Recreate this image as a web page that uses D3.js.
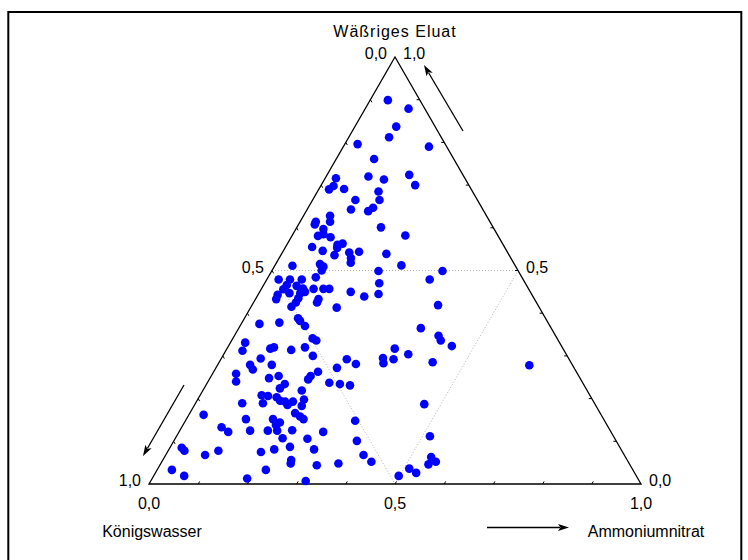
<!DOCTYPE html>
<html>
<head>
<meta charset="utf-8">
<script src="https://cdn.jsdelivr.net/npm/d3@7"></script>
<style>
  body { margin: 0; background: #fff; }
  svg { display: block; }
  text { font-family: "Liberation Sans", Arial, sans-serif; font-size: 16px; fill: #000; }
</style>
</head>
<body>
<script>
// Ternary composition of each sample (fractions, Königswasser = 1 - W - A)
const wassrigesEluat = [
  0.899, 0.879, 0.837, 0.812, 0.790, 0.796, 0.761, 0.716, 0.720, 0.713,
  0.724, 0.700, 0.698, 0.690, 0.691, 0.685, 0.665, 0.665, 0.643, 0.647,
  0.639, 0.628, 0.614, 0.614, 0.608, 0.597, 0.601, 0.581, 0.585, 0.578,
  0.582, 0.555, 0.546, 0.560, 0.563, 0.553, 0.542, 0.544, 0.539, 0.536,
  0.529, 0.518, 0.511, 0.515, 0.509, 0.500, 0.484, 0.512, 0.499, 0.470,
  0.445, 0.450, 0.439, 0.413, 0.457, 0.457, 0.457, 0.479, 0.479, 0.479,
  0.466, 0.456, 0.447, 0.464, 0.458, 0.450, 0.447, 0.443, 0.433, 0.435,
  0.425, 0.415, 0.433, 0.425, 0.375, 0.378, 0.388, 0.382, 0.370, 0.341,
  0.336, 0.365, 0.331, 0.312, 0.317, 0.320, 0.314, 0.320, 0.300, 0.294,
  0.279, 0.268, 0.279, 0.292, 0.281, 0.272, 0.295, 0.283, 0.292, 0.317,
  0.304, 0.258, 0.253, 0.263, 0.253, 0.479, 0.499, 0.419, 0.347, 0.336,
  0.323, 0.285, 0.278, 0.187, 0.112, 0.052, 0.063, 0.052, 0.046, 0.036,
  0.026, 0.019, 0.240, 0.248, 0.234, 0.224, 0.245, 0.237, 0.234, 0.231,
  0.219, 0.198, 0.183, 0.208, 0.206, 0.203, 0.195, 0.193, 0.193, 0.185,
  0.189, 0.189, 0.162, 0.166, 0.158, 0.152, 0.152, 0.152, 0.144, 0.138,
  0.148, 0.133, 0.122, 0.125, 0.125, 0.125, 0.126, 0.122, 0.107, 0.106,
  0.101, 0.085, 0.078, 0.078, 0.075, 0.081, 0.087, 0.081, 0.068, 0.068,
  0.056, 0.048, 0.044, 0.048, 0.033, 0.019, 0.033, 0.013, 0.007
];
const ammoniumnitrat = [
  0.036, 0.088, 0.084, 0.082, 0.174, 0.026, 0.077, 0.022, 0.086, 0.121,
  0.167, 0.191, 0.026, 0.021, 0.051, 0.124, 0.087, 0.136, 0.089, 0.132,
  0.126, 0.054, 0.061, 0.032, 0.033, 0.056, 0.171, 0.053, 0.062, 0.080,
  0.230, 0.054, 0.080, 0.103, 0.112, 0.106, 0.136, 0.155, 0.213, 0.109,
  0.146, 0.151, 0.036, 0.090, 0.100, 0.101, 0.097, 0.257, 0.217, 0.233,
  0.244, 0.185, 0.218, 0.175, 0.126, 0.138, 0.106, 0.024, 0.047, 0.071,
  0.047, 0.045, 0.062, 0.068, 0.084, 0.092, 0.084, 0.040, 0.042, 0.086,
  0.086, 0.082, 0.128, 0.129, 0.037, 0.076, 0.109, 0.116, 0.132, 0.162,
  0.172, 0.370, 0.030, 0.034, 0.088, 0.094, 0.132, 0.157, 0.183, 0.080,
  0.066, 0.077, 0.110, 0.256, 0.280, 0.246, 0.328, 0.335, 0.351, 0.341,
  0.375, 0.048, 0.137, 0.212, 0.202, 0.331, 0.347, 0.378, 0.415, 0.425,
  0.454, 0.434, 0.634, 0.466, 0.515, 0.426, 0.542, 0.557, 0.545, 0.511,
  0.530, 0.498, 0.057, 0.120, 0.159, 0.154, 0.201, 0.248, 0.271, 0.293,
  0.201, 0.216, 0.219, 0.125, 0.139, 0.158, 0.169, 0.180, 0.196, 0.189,
  0.137, 0.095, 0.030, 0.214, 0.228, 0.238, 0.121, 0.176, 0.194, 0.189,
  0.345, 0.081, 0.100, 0.143, 0.179, 0.198, 0.228, 0.293, 0.218, 0.269,
  0.372, 0.024, 0.033, 0.102, 0.190, 0.214, 0.243, 0.295, 0.080, 0.402,
  0.261, 0.264, 0.319, 0.361, 0.030, 0.062, 0.221, 0.193, 0.315
];
const componentNames = ["Wäßriges Eluat", "Königswasser", "Ammoniumnitrat"];
const edgeTicks = [0.1, 0.2, 0.3, 0.4, 0.5, 0.6, 0.7, 0.8, 0.9];
const labelValues = [0, 0.5, 1];
const gridValue = 0.5;

const W = 748, H = 560;
const svg = d3.select("body").append("svg").attr("width", W).attr("height", H);

const deLocale = d3.formatLocale({ decimal: ",", thousands: ".", grouping: [3], currency: ["", " €"] });
const fmt = deLocale.format(".1f");

// Horizontal position uses (A + W/2), vertical uses W
const xScale = d3.scaleLinear().domain([0, 1]).range([149, 641]);
const yScale = d3.scaleLinear().domain([0, 1]).range([484, 57]);
const project = (w, a) => [xScale(a + w / 2), yScale(w)];

const vL = project(0, 0), vR = project(0, 1), vT = project(1, 0);

// Outer frame
svg.append("rect")
  .attr("x", 8.3).attr("y", 12).attr("width", 733).attr("height", 600)
  .attr("fill", "none").attr("stroke", "#000").attr("stroke-width", 2);

// Grid at 0.5 for each component
const grid = [
  [project(gridValue, 0), project(gridValue, 1 - gridValue)],          // Wäßriges Eluat
  [project(0, gridValue), project(1 - gridValue, gridValue)],          // Ammoniumnitrat
  [project(1 - gridValue, 0), project(0, 1 - gridValue)]               // Königswasser
];
svg.append("g").selectAll("line").data(grid).join("line")
  .attr("x1", d => d[0][0]).attr("y1", d => d[0][1])
  .attr("x2", d => d[1][0]).attr("y2", d => d[1][1])
  .attr("stroke", "#b4b4b4").attr("stroke-width", 1).attr("stroke-dasharray", "1,2");

// Triangle
svg.append("path")
  .attr("d", d3.line()([vL, vR, vT, vL]) + "Z")
  .attr("fill", "none").attr("stroke", "#000").attr("stroke-width", 1.3)
  .attr("stroke-linejoin", "miter");

// Edge ticks pointing inward along each grid direction
const tickLen = 3;
const unit = (p, q) => { const dx = q[0] - p[0], dy = q[1] - p[1], l = Math.hypot(dx, dy); return [dx / l, dy / l]; };
const dLeftIn = unit(vT, vR);   // Königswasser ticks on left edge
const dBotIn = unit(vL, vT);    // Ammoniumnitrat ticks on bottom edge
const ticks = [];
edgeTicks.forEach(v => {
  const pr = project(v, 1 - v); ticks.push([pr, [pr[0] - tickLen, pr[1]]]);
  const pl = project(1 - v, 0); ticks.push([pl, [pl[0] + dLeftIn[0] * tickLen, pl[1] + dLeftIn[1] * tickLen]]);
  const pb = project(0, v); ticks.push([pb, [pb[0] + dBotIn[0] * tickLen, pb[1] + dBotIn[1] * tickLen]]);
});
svg.append("g").selectAll("line").data(ticks).join("line")
  .attr("x1", d => d[0][0]).attr("y1", d => d[0][1])
  .attr("x2", d => d[1][0]).attr("y2", d => d[1][1])
  .attr("stroke", "#000").attr("stroke-width", 1);

// Points
svg.append("g").selectAll("circle").data(wassrigesEluat.map((w, i) => [w, ammoniumnitrat[i]])).join("circle")
  .attr("cx", d => project(d[0], d[1])[0])
  .attr("cy", d => project(d[0], d[1])[1])
  .attr("r", 4.3)
  .attr("fill", "#0000ff");

// Tick labels
const lab = svg.append("g");
// Wäßriges Eluat on right edge
labelValues.forEach(v => {
  const p = project(v, 1 - v);
  lab.append("text").attr("x", p[0] + 8).attr("y", p[1] + 2).text(fmt(v));
});
// Königswasser on left edge
labelValues.forEach(v => {
  const p = project(1 - v, 0);
  lab.append("text").attr("x", p[0] - 8).attr("y", p[1] + 2).attr("text-anchor", "end").text(fmt(v));
});
// Ammoniumnitrat along the bottom
labelValues.forEach(v => {
  const p = project(0, v);
  lab.append("text").attr("x", p[0]).attr("y", p[1] + 25).attr("text-anchor", "middle").text(fmt(v));
});

// Component titles
svg.append("text").attr("x", vT[0]).attr("y", 37).attr("text-anchor", "middle")
  .style("letter-spacing", "1px").text(componentNames[0]);
svg.append("text").attr("x", vL[0] + 3).attr("y", 537).attr("text-anchor", "middle").text(componentNames[1]);
svg.append("text").attr("x", vR[0] + 5).attr("y", 537).attr("text-anchor", "middle").text(componentNames[2]);

// Direction arrows
function arrow(x1, y1, x2, y2) {
  const [ux, uy] = unit([x1, y1], [x2, y2]);
  const len = 11, hw = 3.6;
  const bx = x2 - ux * len, by = y2 - uy * len;
  svg.append("line").attr("x1", x1).attr("y1", y1).attr("x2", bx + ux * 2).attr("y2", by + uy * 2)
    .attr("stroke", "#000").attr("stroke-width", 1.3);
  svg.append("path")
    .attr("d", d3.line()([[x2, y2], [bx - uy * hw, by + ux * hw], [bx + ux * 2.5, by + uy * 2.5], [bx + uy * hw, by - ux * hw]]) + "Z")
    .attr("fill", "#000");
}
arrow(463, 131, 424, 65);
arrow(184, 385, 143, 456);
arrow(487, 527.5, 569, 527.5);
</script>
</body>
</html>
